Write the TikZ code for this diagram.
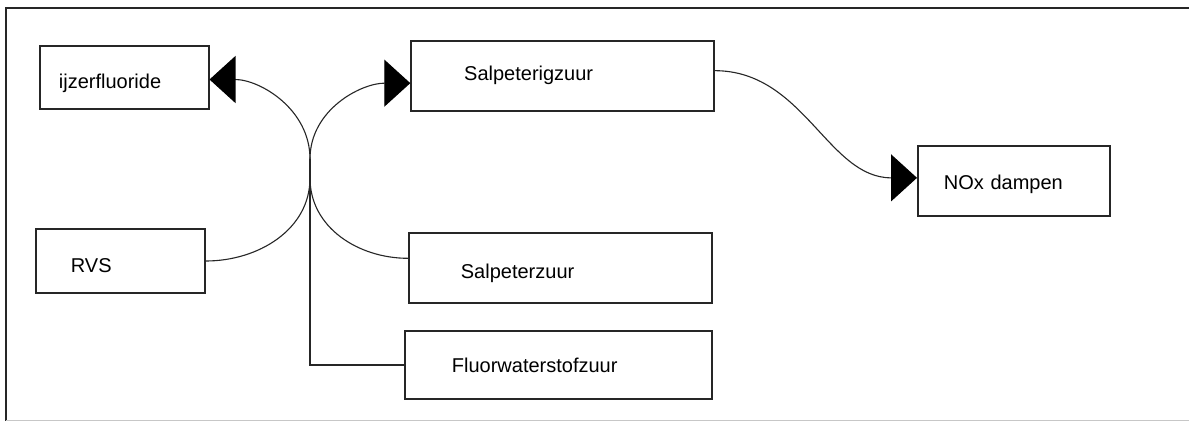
\documentclass[tikz,border=0pt]{standalone}
\usepackage{fontspec}
\setmainfont{Liberation Sans}
\usetikzlibrary{arrows.meta}
\begin{document}
\begin{tikzpicture}[x=1pt,y=-1pt,
  box/.style={draw=black!85, line width=1.8pt, inner ysep=0pt, align=left, anchor=base west, font=\fontsize{20}{24}\selectfont},
  conn/.style={line width=1.1pt, draw=black!85},
  arr/.style={-{Triangle[length=26pt,width=47pt,color=black]}}]
\useasboundingbox (0,0) rectangle (1189,421);
\fill[white] (0,0) rectangle (1189,421);
\draw[line width=2pt, black!85] (1189,8.3) -- (6.3,8.3) -- (6.3,421);
\draw[line width=1pt, black!22] (6.3,420.5) -- (1189,420.5);
% boxes
\node[box, inner xsep=19.3pt, text width=130.4pt, text height=42.5pt, text depth=20.5pt] (ijz) at (38.7,88.5) {ijzerfluoride};
\node[box, inner xsep=35pt, text width=99pt, text height=43pt, text depth=21pt] (rvs) at (35,272) {RVS};
\node[box, inner xsep=53pt, text width=196.4pt, text height=39.2pt, text depth=30.5pt] (sig) at (410.3,80.5) {Salpeterigzuur};
\node[box, inner xsep=52pt, text width=199pt, text height=45pt, text depth=25pt] (sz) at (408,278.3) {Salpeterzuur};
\node[box, inner xsep=46.7pt, text width=213.3pt, text height=41.3pt, text depth=26.7pt] (hf) at (404.3,372.3) {Fluorwaterstofzuur};
\node[box, inner xsep=26pt, text width=139.7pt, text height=43.6pt, text depth=26.7pt] (nox) at (917,189.3) {NOx dampen};
% hub
\coordinate (hubT) at (310,159);
\coordinate (hubB) at (310,178);
% connectors
\draw[conn,arr] (rvs.east) to[out=0,in=-90] (hubB) -- (hubT) to[out=90,in=180] ([yshift=-7pt]sig.west);
\draw[conn,arr] ([yshift=10pt]sz.west) to[out=180,in=-90] (hubB) -- (hubT) to[out=90,in=0] ([yshift=-2pt]ijz.east);
\draw[conn] (hf.west) -| (hubT);
\draw[conn,arr] ([yshift=5.5pt]sig.east) to[out=0,in=180] ([yshift=3pt]nox.west);
\end{tikzpicture}
\end{document}
